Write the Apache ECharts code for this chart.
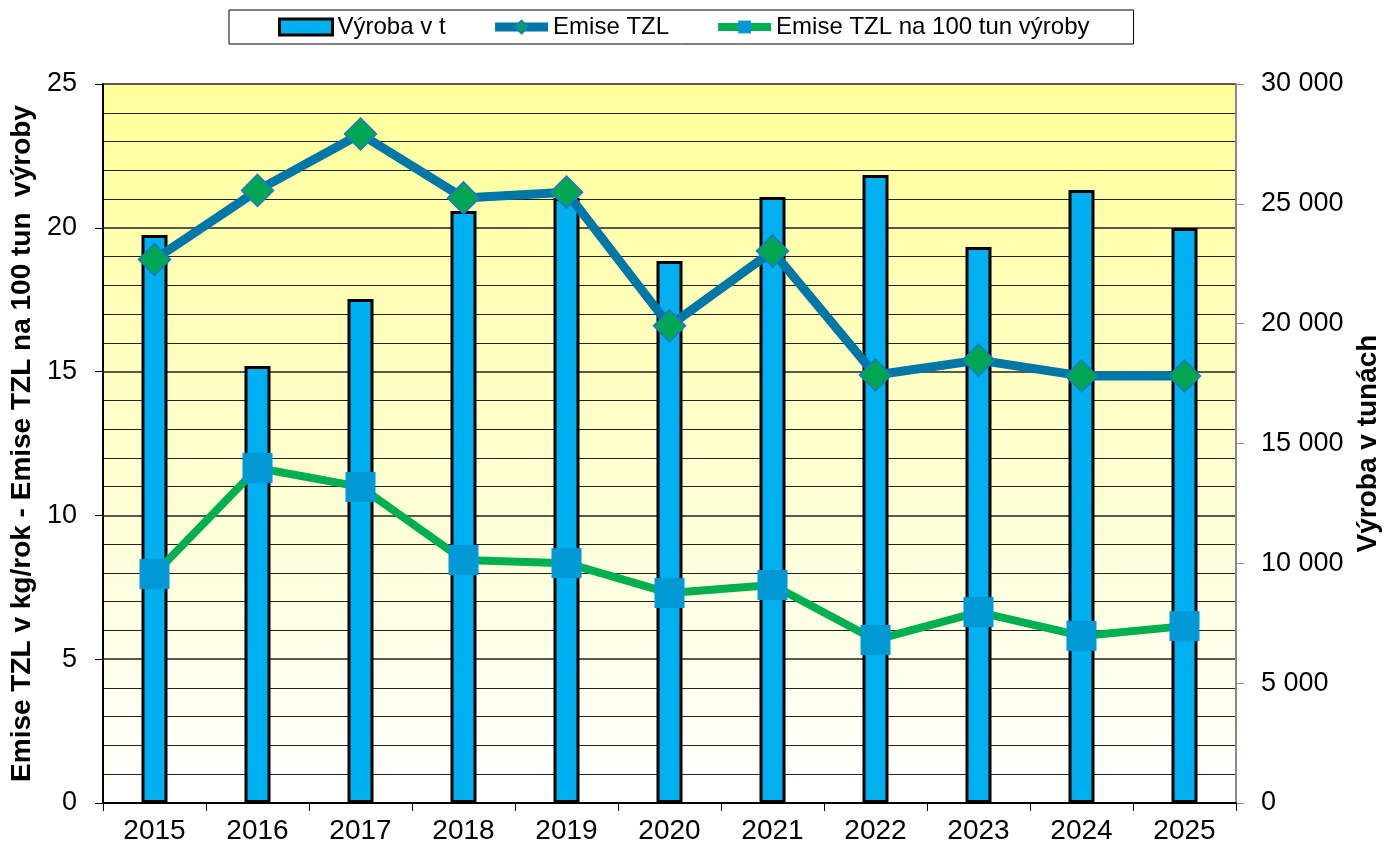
<!DOCTYPE html>
<html>
<head>
<meta charset="utf-8">
<script src="https://cdn.jsdelivr.net/npm/echarts@6/dist/echarts.min.js"></script>
<style>
html,body{margin:0;padding:0;background:#fff;}
</style>
</head>
<body>
<div id="main" style="width:1384px;height:849px;"></div>
<script>
var years = ['2015','2016','2017','2018','2019','2020','2021','2022','2023','2024','2025'];
var vyroba = [23700, 18230, 21030, 24700, 25240, 22610, 25290, 26200, 23200, 25580, 23990];
var emise = [18.9, 21.3, 23.26, 21.04, 21.24, 16.59, 19.19, 14.88, 15.4, 14.85, 14.85];
var emise100 = [7.96, 11.65, 10.99, 8.45, 8.34, 7.3, 7.58, 5.67, 6.64, 5.81, 6.15];

var myChart = echarts.init(document.getElementById('main'));

var font = 'Liberation Sans, Arial, sans-serif';

option = {
    backgroundColor: '#fff',
    textStyle: { fontFamily: font },
    legend: {
        top: 10,
        left: 229,
        padding: [5, 44, 5, 49],
        borderColor: '#000',
        borderWidth: 1,
        itemGap: 45,
        itemWidth: 53,
        itemHeight: 16,
        textStyle: { fontSize: 24, color: '#000', fontFamily: font },
        data: [
            { name: 'Výroba v t', icon: 'rect', itemStyle: { color: '#00B0F0', borderColor: '#000', borderWidth: 3 } },
            { name: 'Emise TZL', lineStyle: { width: 9 } },
            { name: 'Emise TZL na 100 tun výroby', lineStyle: { width: 8 } }
        ]
    },
    grid: {
        left: 103,
        right: 148,
        top: 84,
        bottom: 46,
        outerBoundsMode: 'none',
        show: true,
        borderWidth: 0,
        backgroundColor: new echarts.graphic.LinearGradient(0, 0, 0, 1, [
            { offset: 0, color: '#FFFF99' },
            { offset: 1, color: '#FFFFFF' }
        ])
    },
    xAxis: {
        type: 'category',
        data: years,
        axisLine: { lineStyle: { color: '#000', width: 2 } },
        axisTick: { show: true, length: 8, lineStyle: { color: '#000' } },
        axisLabel: { fontSize: 28, color: '#000', margin: 14 }
    },
    yAxis: [
        {
            type: 'value',
            min: 0,
            max: 25,
            interval: 5,
            name: 'Emise TZL v kg/rok - Emise TZL na 100 tun  výroby',
            nameLocation: 'middle',
            nameGap: 61,
            nameTextStyle: { fontSize: 28, fontWeight: 'bold', color: '#000' },
            axisLine: { show: true, lineStyle: { color: '#000', width: 2 } },
            axisTick: { show: true, length: 8, lineStyle: { color: '#000' } },
            axisLabel: { fontSize: 27, color: '#000', margin: 26 },
            splitLine: { show: true, lineStyle: { color: '#222', width: 1.5 } },
            minorTick: { show: false, splitNumber: 5 },
            minorSplitLine: { show: true, lineStyle: { color: '#222', width: 1.2 } }
        },
        {
            type: 'value',
            min: 0,
            max: 30000,
            interval: 5000,
            name: 'Výroba v tunách',
            nameLocation: 'middle',
            nameGap: 118,
            nameTextStyle: { fontSize: 28, fontWeight: 'bold', color: '#000' },
            axisLine: { show: true, lineStyle: { color: '#888', width: 2 } },
            axisTick: { show: true, length: 8, lineStyle: { color: '#888' } },
            axisLabel: {
                fontSize: 27,
                color: '#000',
                margin: 25,
                formatter: function (v) {
                    return String(v).replace(/\B(?=(\d{3})+(?!\d))/g, ' ');
                }
            },
            splitLine: { show: false }
        }
    ],
    series: [
        {
            name: 'Výroba v t',
            type: 'bar',
            yAxisIndex: 1,
            barWidth: 26,
            data: vyroba,
            itemStyle: { color: '#00B0F0', borderColor: '#000', borderWidth: 3 }
        },
        {
            name: 'Emise TZL',
            type: 'line',
            yAxisIndex: 0,
            data: emise,
            symbol: 'diamond',
            symbolSize: 32,
            lineStyle: { color: '#0077A6', width: 9 },
            itemStyle: { color: '#00A651', borderColor: '#1F78C8', borderWidth: 1.5 },
            z: 3
        },
        {
            name: 'Emise TZL na 100 tun výroby',
            type: 'line',
            yAxisIndex: 0,
            data: emise100,
            symbol: 'rect',
            symbolSize: 30,
            lineStyle: { color: '#00B050', width: 8 },
            itemStyle: { color: '#0099D6', borderColor: '#0099D6', borderWidth: 0 },
            z: 4
        }
    ]
};
myChart.setOption(option);
</script>
</body>
</html>
